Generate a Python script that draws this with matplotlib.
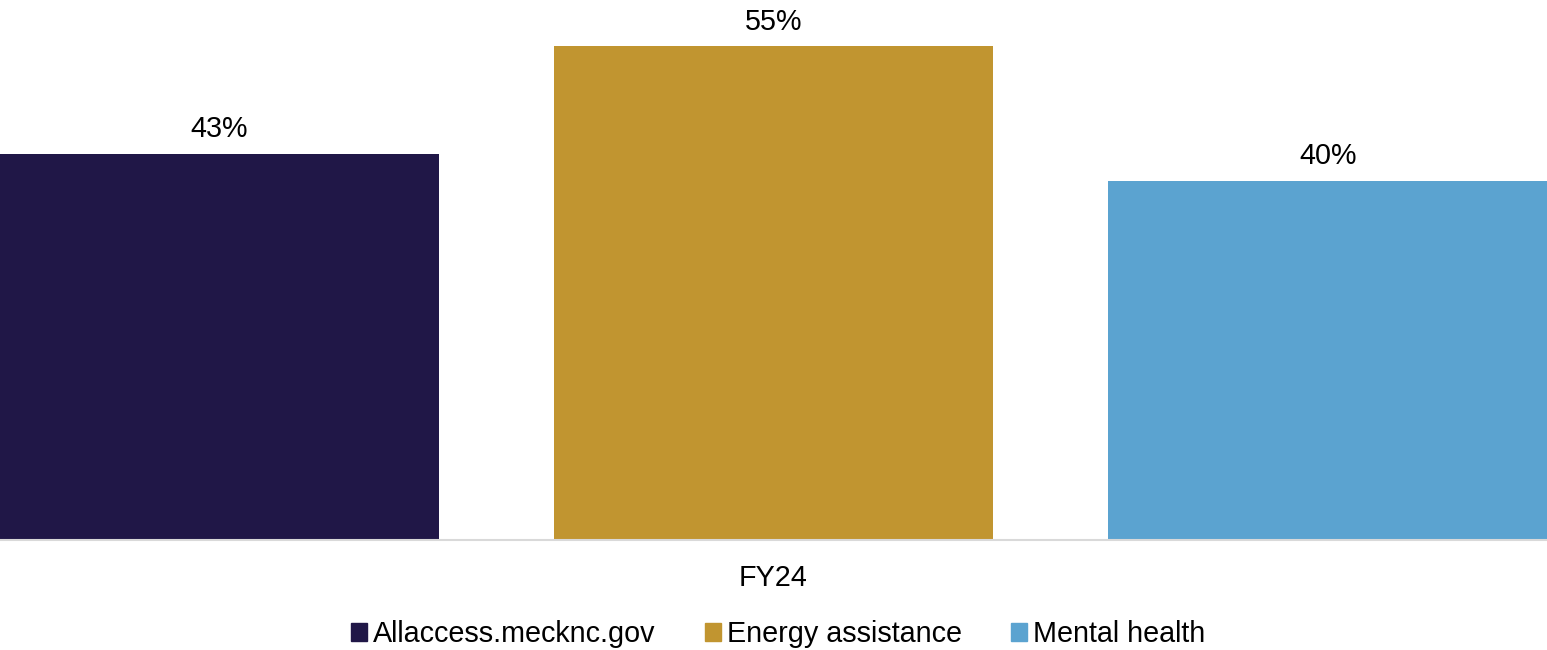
import numpy as np
import matplotlib.pyplot as plt
from matplotlib.patches import Patch

plt.rcParams['font.family'] = ['Liberation Sans', 'DejaVu Sans']

# data
series = ['Allaccess.mecknc.gov', 'Energy assistance', 'Mental health']
values = [43, 55, 40]
colors = ['#201747', '#C19530', '#5BA3D0']
category = 'FY24'

fs = 20.7
fig = plt.figure(figsize=(15.47, 6.5), dpi=100)
ax = fig.add_axes([0, 110 / 650, 1, 540 / 650])

x = np.arange(len(series))
w = 439 / 554.5
bars = ax.bar(x, values, width=w, color=colors)
for b, v in zip(bars, values):
    ax.text(b.get_x() + b.get_width() / 2, v + 1.15, f'{v}%',
            ha='center', va='bottom', fontsize=fs)

ax.set_xlim(-w / 2, len(series) - 1 + w / 2)
ax.set_ylim(0, 540 / (494 / 55))
ax.set_yticks([])
ax.set_xticks([])
for s in ['top', 'right', 'left']:
    ax.spines[s].set_visible(False)
ax.spines['bottom'].set_color('#d9d9d9')
ax.spines['bottom'].set_linewidth(1.5)

fig.text(773 / 1547, 1 - 578 / 650, category, ha='center', va='center', fontsize=fs)

handles = [Patch(color=c, label=s) for c, s in zip(colors, series)]
fig.legend(handles=handles, loc='center', bbox_to_anchor=(778 / 1547, 1 - 634 / 650),
           ncol=3, frameon=False, fontsize=fs, handlelength=0.56, handleheight=0.56,
           handletextpad=0.21, columnspacing=1.7)

fig.savefig('out.png', dpi=100)
